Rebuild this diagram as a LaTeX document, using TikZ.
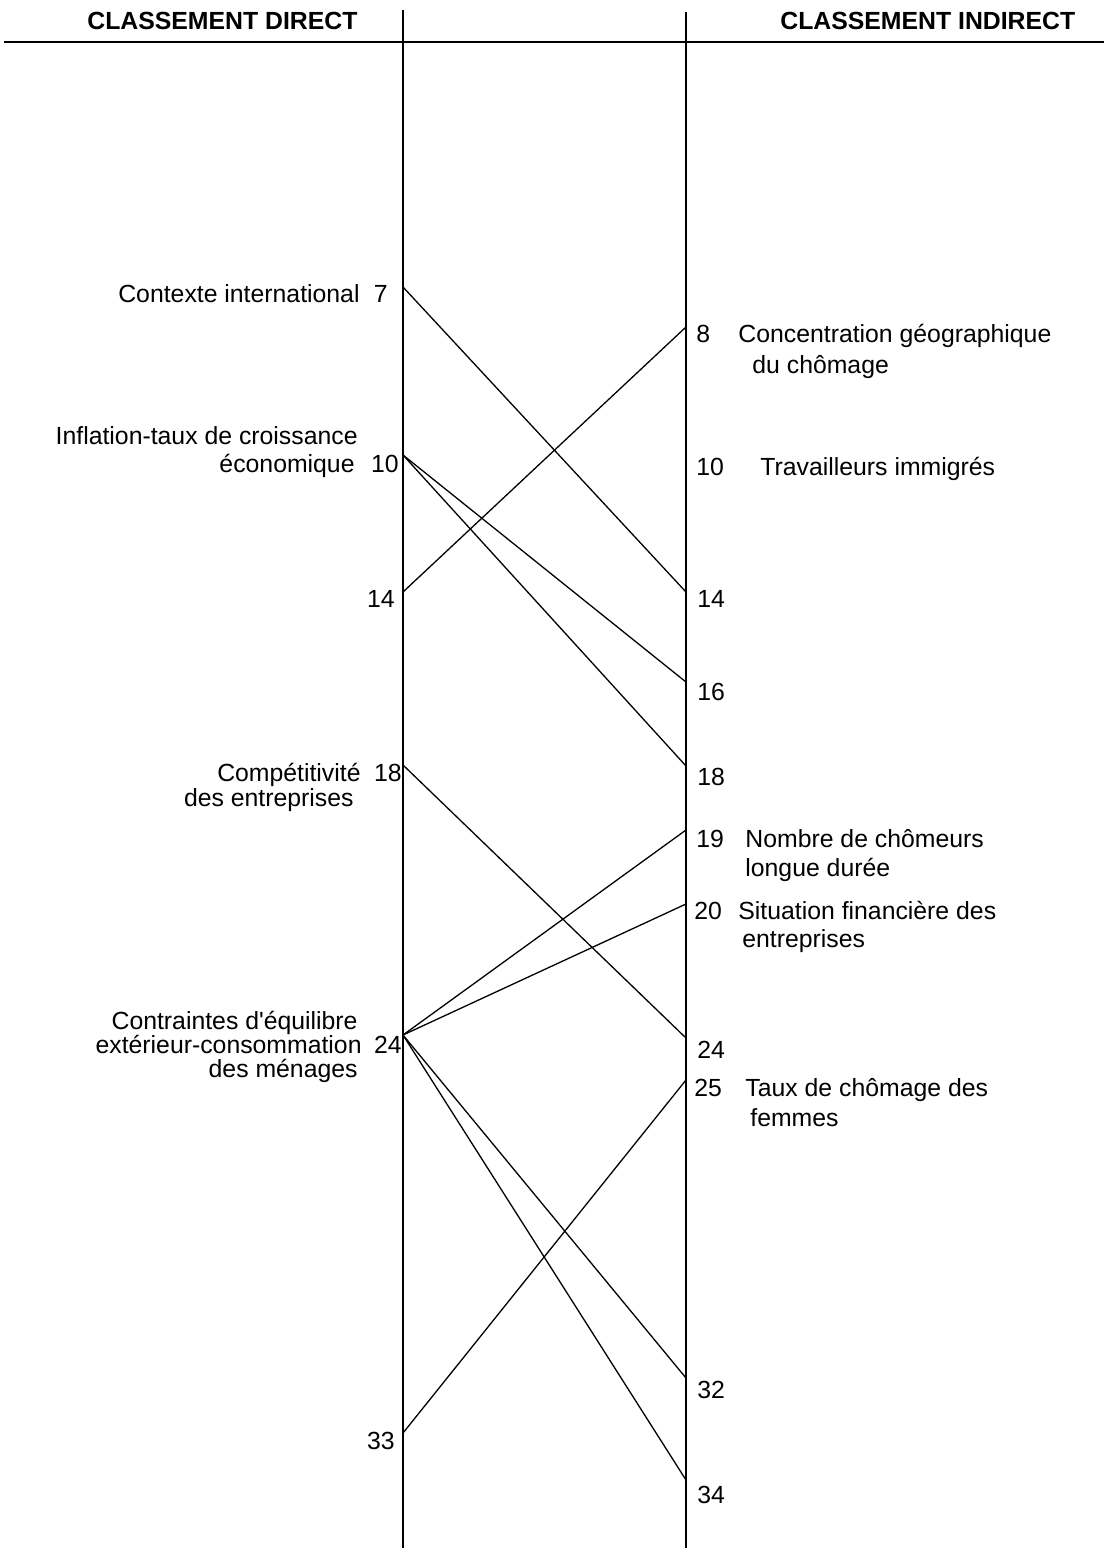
\documentclass[tikz,border=0pt]{standalone}
\usepackage{fontspec}
\setmainfont{Liberation Sans}
\begin{document}
\begin{tikzpicture}[x=0.5pt,y=-0.5pt,
  lbl/.style={inner sep=0pt,font=\fontsize{12.4}{14}\selectfont},
  lw/.style={lbl,anchor=base east},
  rw/.style={lbl,anchor=base west},
  hdr/.style={lbl,anchor=base west,font=\fontsize{12.4}{14}\selectfont\bfseries},
  axis/.style={line width=1.2pt},
  link/.style={line width=0.65pt}]
\useasboundingbox[fill=white] (0,0) rectangle (1104,1548);
% header
\node[hdr] (hd) at (87,29) {CLASSEMENT DIRECT};
\node[hdr] (hi) at (780,29) {CLASSEMENT INDIRECT};
\coordinate (hl) at (4,42);
\coordinate (hr) at (1104,42);
\draw[line width=1.4pt] (hl) -- (hr);
% axes
\coordinate (lt) at (403,10);
\coordinate (lb) at (403,1548);
\coordinate (rt) at (686,12);
\coordinate (rb) at (686,1548);
\draw[axis] (lt) -- (lb);
\draw[axis] (rt) -- (rb);
% left points
\coordinate (L7) at (403,287);
\coordinate (L10) at (403,455);
\coordinate (L14) at (403,592);
\coordinate (L18) at (403,765);
\coordinate (L24) at (403,1035);
\coordinate (L33) at (403,1433);
% right points
\coordinate (R8) at (686,327);
\coordinate (R14) at (686,592);
\coordinate (R16) at (686,682);
\coordinate (R18) at (686,766);
\coordinate (R19) at (686,830);
\coordinate (R20) at (686,904);
\coordinate (R24) at (686,1038);
\coordinate (R25) at (686,1080);
\coordinate (R32) at (686,1378);
\coordinate (R34) at (686,1480);
% links
\draw[link] (L7) -- (R14);
\draw[link] (L10) -- (R16);
\draw[link] (L10) -- (R18);
\draw[link] (L14) -- (R8);
\draw[link] (L18) -- (R24);
\draw[link] (L24) -- (R19);
\draw[link] (L24) -- (R20);
\draw[link] (L24) -- (R32);
\draw[link] (L24) -- (R34);
\draw[link] (L33) -- (R25);
% left labels
\node[lw] (t7) at (360,302) {Contexte international};
\node[lw] (n7) at (388,302) {7};
\node[lw] (t10a) at (358,444) {Inflation-taux de croissance};
\node[lw] (t10b) at (355,472) {économique};
\node[lw] (n10) at (399,472) {10};
\node[lw] (n14) at (395,607) {14};
\node[lw] (t18a) at (361,781) {Compétitivité};
\node[lw] (n18) at (402,781) {18};
\node[lw] (t18b) at (354,806) {des entreprises};
\node[lw] (t24a) at (358,1029) {Contraintes d\textquotesingle équilibre};
\node[lw] (t24b) at (362,1053) {extérieur-consommation};
\node[lw] (n24) at (402,1053) {24};
\node[lw] (t24c) at (358,1077) {des ménages};
\node[lw] (n33) at (395,1449) {33};
% right labels
\node[rw] (m8) at (696,342) {8};
\node[rw] (s8a) at (738,342) {Concentration géographique};
\node[rw] (s8b) at (752,373) {du chômage};
\node[rw] (m10) at (696,475) {10};
\node[rw] (s10) at (760,475) {Travailleurs immigrés};
\node[rw] (m14) at (697,607) {14};
\node[rw] (m16) at (697,700) {16};
\node[rw] (m18) at (697,785) {18};
\node[rw] (m19) at (696,847) {19};
\node[rw] (s19a) at (745,847) {Nombre de chômeurs};
\node[rw] (s19b) at (745,876) {longue durée};
\node[rw] (m20) at (694,919) {20};
\node[rw] (s20a) at (738,919) {Situation financière des};
\node[rw] (s20b) at (742,947) {entreprises};
\node[rw] (m24) at (697,1058) {24};
\node[rw] (m25) at (694,1096) {25};
\node[rw] (s25a) at (745,1096) {Taux de chômage des};
\node[rw] (s25b) at (750,1126) {femmes};
\node[rw] (m32) at (697,1398) {32};
\node[rw] (m34) at (697,1503) {34};
\end{tikzpicture}
\end{document}
